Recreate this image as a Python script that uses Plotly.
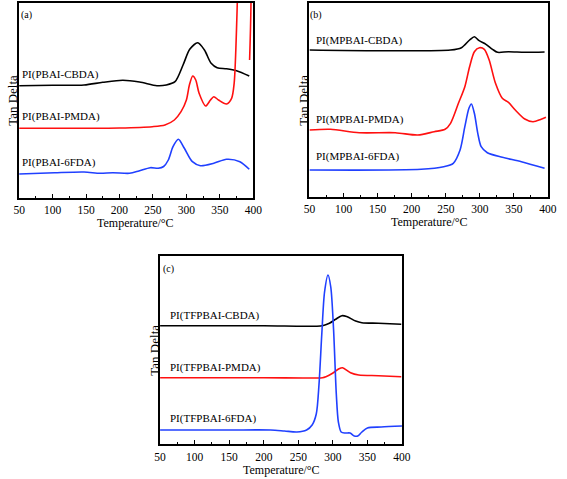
import plotly.graph_objects as go

# ---------------- data (Tan Delta, arbitrary units) ----------------
# Panel (a)
a_T_cbda = [50, 100, 147, 175, 205, 230, 256, 270, 283, 295, 305, 317, 327, 337, 346, 360, 375, 394]
a_cbda = [111.8, 112.2, 112.5, 115.2, 117.2, 115.5, 111.8, 112.5, 115.8, 132.5, 148.2, 154.8, 147.5, 134.2, 129.8, 128.8, 126.8, 121.5]

a_T_pmda = [50, 150, 200, 249, 268, 282, 292, 300, 304.5, 309.5, 314, 319, 328.7, 336, 341, 348, 360, 367.6, 371.4, 373.9, 375.8, 378, 385, 392, 394.5]
a_pmda = [69.2, 69.2, 69.5, 70.8, 72.5, 77.5, 85.8, 97.5, 112.5, 121.5, 117.5, 104.2, 91.5, 97.5, 100.8, 97.5, 93.5, 99.2, 114.2, 147.5, 187.5, 230, 260, 260, 137.5]

a_T_6fda = [50, 103, 147, 171, 190, 215, 229, 246, 258, 266, 273, 280, 288, 297, 309, 321, 341, 360, 380, 394]
a_6fda = [23.5, 24.8, 25.5, 24.2, 24.8, 24.2, 26.5, 29.8, 29.2, 31, 37.5, 50.8, 58.2, 49.2, 35.8, 31.8, 34.2, 38.2, 35.8, 28.2]

# Panel (b)
b_T_cbda = [50, 150, 257, 273, 285, 292, 299, 309, 318.6, 326, 342, 366, 395]
b_cbda = [146.7, 146.0, 146.7, 149, 156.7, 160, 156, 152.4, 147.4, 144.4, 145, 144.4, 144.7]

b_T_pmda = [50, 81, 123, 176, 209, 233, 249, 257, 268.6, 278, 285, 292, 299.5, 306.6, 313.7, 323, 333, 342, 352, 366, 378, 390, 397]
b_pmda = [66.7, 67.4, 64, 64, 61.7, 65, 67.4, 73.4, 93.4, 110, 130, 145, 149, 147.4, 136.7, 113.4, 98.4, 94.4, 86.7, 77.7, 75, 77.4, 79.4]

b_T_6fda = [50, 214, 247, 261, 271, 278, 284, 287.6, 292, 297, 302, 311, 333, 361, 395]
b_6fda = [26.7, 27.4, 30, 33.4, 46.7, 70, 88.4, 92.7, 83.4, 63.4, 50, 44, 39.4, 35, 28.4]

# Panel (c)
c_T_cbda = [50, 200, 285, 295, 304, 313, 320, 333, 342, 366, 399]
c_cbda = [118.3, 118.3, 118.3, 120.7, 124.7, 128.3, 127.5, 123, 121.3, 120.7, 119.7]

c_T_pmda = [50, 200, 285, 290, 299.6, 309, 314, 325.6, 337.5, 366, 399]
c_pmda = [66.3, 66.3, 66.3, 67.3, 70.7, 75.3, 76.3, 71.3, 69, 68.3, 67.3]

c_T_6fda = [50, 150, 210, 230, 248, 262, 270, 276, 280, 284, 288, 293, 297, 301, 305, 308, 312, 318, 325, 331, 336, 342, 350, 370, 400]
c_6fda = [14, 14, 14, 13, 12, 14, 19, 30, 60, 110, 152, 169, 157, 115, 50, 22, 12, 11, 11, 8, 8, 12, 16, 17, 18]

panel_tags = ["(a)", "(b)", "(c)"]
labels_a = ["PI(PBAI-CBDA)", "PI(PBAI-PMDA)", "PI(PBAI-6FDA)"]
labels_b = ["PI(MPBAI-CBDA)", "PI(MPBAI-PMDA)", "PI(MPBAI-6FDA)"]
labels_c = ["PI(TFPBAI-CBDA)", "PI(TFPBAI-PMDA)", "PI(TFPBAI-6FDA)"]
x_title = "Temperature/°C"
y_title = "Tan Delta"

# ---------------- styling ----------------
W, H = 567, 479
FONT = "Liberation Serif, Times New Roman, serif"
BLACK, RED, BLUE = "#000000", "#ff1010", "#2040ff"

fig = go.Figure()

panels = [
    ("x", "y", [(a_T_cbda, a_cbda, BLACK), (a_T_pmda, a_pmda, RED), (a_T_6fda, a_6fda, BLUE)]),
    ("x2", "y2", [(b_T_cbda, b_cbda, BLACK), (b_T_pmda, b_pmda, RED), (b_T_6fda, b_6fda, BLUE)]),
    ("x3", "y3", [(c_T_cbda, c_cbda, BLACK), (c_T_pmda, c_pmda, RED), (c_T_6fda, c_6fda, BLUE)]),
]
for xa, ya, series in panels:
    for T, v, col in series:
        fig.add_trace(go.Scatter(x=T, y=v, mode="lines", xaxis=xa, yaxis=ya,
                                 line=dict(color=col, width=1.6, shape="spline", smoothing=0.8),
                                 showlegend=False, hoverinfo="skip"))

def px_x(p):
    return p / W

def px_y(p):
    return 1 - p / H

# axis boxes in pixels: (left, right, top, bottom)
boxes = [(13.5, 254, 3, 197.5), (311.7, 556.7, 3, 196.7), (158.3, 406.7, 256, 444)]
yranges = [[0, 194.5], [0, 193.7], [0, 188]]

def xaxis_cfg(box, anchor):
    l, r, t, b = box
    return dict(domain=[px_x(l), px_x(r)], anchor=anchor, range=[50, 400],
                showline=True, linecolor="black", linewidth=1.5, mirror=True,
                ticks="inside", ticklen=4, tickwidth=1.2, tickcolor="black",
                tick0=50, dtick=50, showgrid=False, zeroline=False,
                ticklabelstandoff=1,
                tickfont=dict(family=FONT, size=11.5, color="black"),
                minor=dict(ticks="inside", ticklen=2, dtick=25, tick0=50, tickcolor="black", showgrid=False))

def yaxis_cfg(box, anchor, yr):
    l, r, t, b = box
    return dict(domain=[px_y(b), px_y(t)], anchor=anchor, range=yr,
                showline=True, linecolor="black", linewidth=1.5, mirror=True,
                ticks="", showticklabels=False, showgrid=False, zeroline=False)

fig.update_layout(
    width=W, height=H, margin=dict(l=0, r=0, t=0, b=0),
    paper_bgcolor="white", plot_bgcolor="white",
    xaxis=xaxis_cfg(boxes[0], "y"), yaxis=yaxis_cfg(boxes[0], "x", yranges[0]),
    xaxis2=xaxis_cfg(boxes[1], "y2"), yaxis2=yaxis_cfg(boxes[1], "x2", yranges[1]),
    xaxis3=xaxis_cfg(boxes[2], "y3"), yaxis3=yaxis_cfg(boxes[2], "x3", yranges[2]),
)

ann = []
# curve labels (data coordinates)
label_sets = [
    ("x", "y", labels_a, 51.5, [122.5, 80.5, 34.5], (61, 182.5)),
    ("x2", "y2", labels_b, 56.6, [156, 76.7, 40], (59, 181.7)),
    ("x3", "y3", labels_c, 61, [129, 77, 26], (62, 175)),
]
for i, (xr, yr, labs, lx, lys, tagpos) in enumerate(label_sets):
    for lab, ly in zip(labs, lys):
        ann.append(dict(x=lx, y=ly, xref=xr, yref=yr, text=lab, showarrow=False,
                        xanchor="left", yanchor="middle",
                        font=dict(family=FONT, size=11, color="black")))
    ann.append(dict(x=tagpos[0], y=tagpos[1], xref=xr, yref=yr, text=panel_tags[i], showarrow=False,
                    xanchor="center", yanchor="middle",
                    font=dict(family=FONT, size=10, color="black")))

# axis titles
xt_pos = [(133, 223), (434.7, 222), (283, 470)]
yt_pos = [(6, 100), (304.7, 100), (151.7, 350)]
for (xx, yy) in xt_pos:
    ann.append(dict(x=px_x(xx), y=px_y(yy), xref="paper", yref="paper", text=x_title,
                    showarrow=False, xanchor="center", yanchor="middle",
                    font=dict(family=FONT, size=12, color="black")))
for (xx, yy) in yt_pos:
    ann.append(dict(x=px_x(xx), y=px_y(yy), xref="paper", yref="paper", text=y_title,
                    showarrow=False, xanchor="center", yanchor="middle", textangle=-90,
                    font=dict(family=FONT, size=13, color="black")))

fig.update_layout(annotations=ann)
fig.write_html("out.html",
               config={"displayModeBar": False},
               post_script="document.body.style.margin='0px';document.body.style.overflow='hidden';")
